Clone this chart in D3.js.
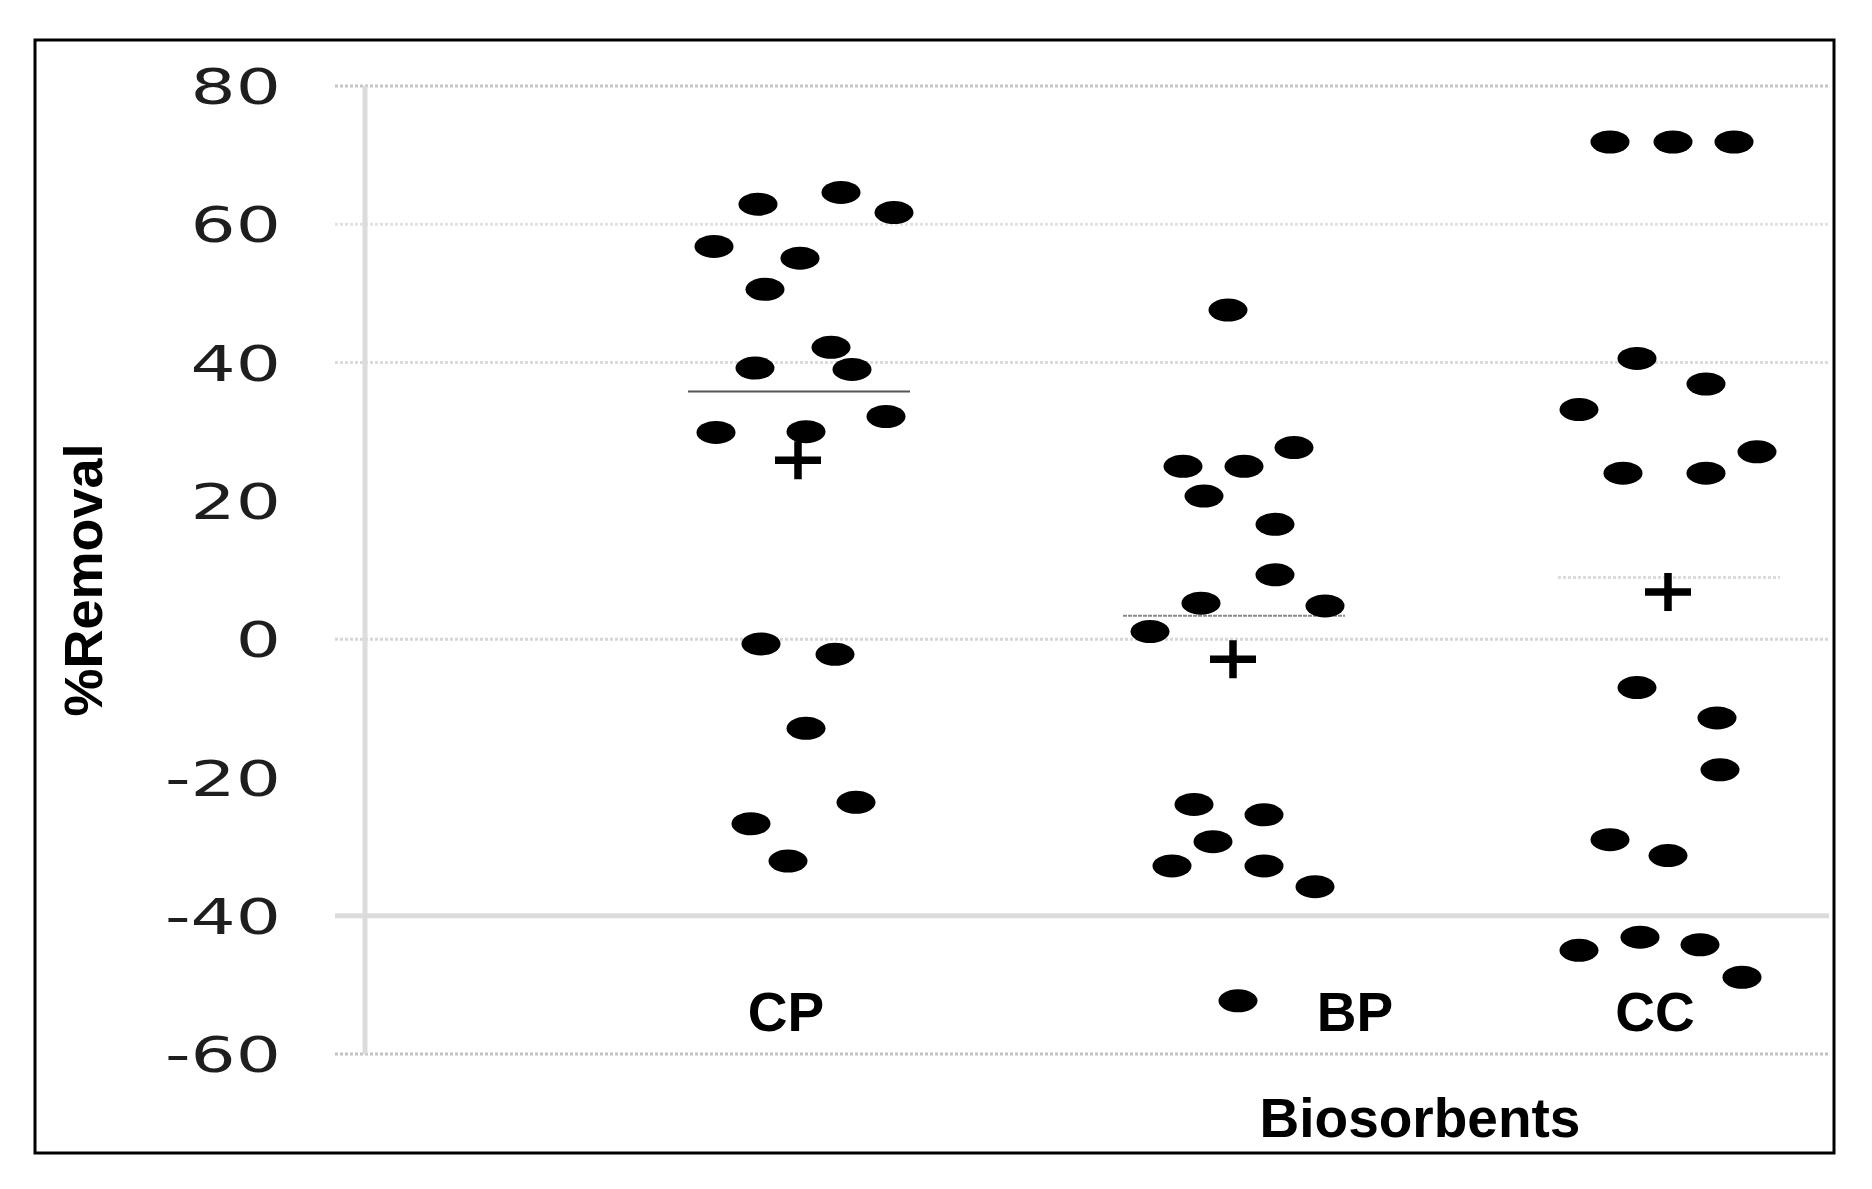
<!DOCTYPE html>
<html>
<head>
<meta charset="utf-8">
<script src="https://cdn.jsdelivr.net/npm/d3@7"></script>
<style>
  body { margin: 0; background: #fff; }
  .tick-label { font-family: 'DejaVu Sans', Verdana, sans-serif; font-size: 49px; fill: #1e1e1e; }
  .axis-label, .cat-label { font-family: 'Liberation Sans', Arial, sans-serif; font-weight: bold; fill: #000; }
</style>
</head>
<body>
<svg id="chart"></svg>
<script>
const categories = ['CP', 'BP', 'CC'];

// [%Removal, jitter] ; jitter is the sideways spread inside a group, -1 .. 1
const cpPoints = [
  [62.9, -0.40], [64.6, 0.43], [61.7, 0.96], [56.8, -0.84], [55.1, 0.02], [50.6, -0.33],
  [42.2, 0.33], [39.2, -0.43], [39.0, 0.54], [29.9, -0.82], [30.0, 0.08], [32.2, 0.88],
  [-0.7, -0.37], [-2.2, 0.37], [-12.9, 0.08], [-23.6, 0.58], [-26.7, -0.47], [-32.1, -0.10]
];
const bpPoints = [
  [47.6, -0.05], [27.7, 0.61], [25.0, -0.50], [25.0, 0.11], [20.7, -0.29], [16.6, 0.42],
  [9.3, 0.42], [5.2, -0.32], [4.8, 0.92], [1.1, -0.83], [-23.9, -0.39], [-25.4, 0.31],
  [-29.3, -0.20], [-32.8, -0.61], [-32.8, 0.31], [-35.8, 0.82], [-52.3, 0.05]
];
const ccPoints = [
  [71.9, -0.58], [71.9, 0.05], [71.9, 0.66], [40.6, -0.31], [36.9, 0.38], [33.2, -0.89],
  [27.1, 0.89], [24.0, -0.45], [24.0, 0.38], [-7.0, -0.31], [-11.4, 0.49], [-18.9, 0.52],
  [-29.0, -0.58], [-31.3, 0.00], [-45.0, -0.89], [-43.1, -0.28], [-44.2, 0.32], [-48.9, 0.74]
];

// median bars as drawn in the figure
const medianLines = [35.8, 3.4, 8.9];

const yTicks = [80, 60, 40, 20, 0, -20, -40, -60];
const gridValues = [80, 60, 40, 0, -40, -60];

const xAxisTitle = 'Biosorbents';
const yAxisTitle = '%Removal';

class DotPlot {

  constructor(_config) {
    this.config = {
      parentElement: _config.parentElement,
      containerWidth: _config.containerWidth || 1872,
      containerHeight: _config.containerHeight || 1189,
    }
  }

  initVis() {
    let vis = this;

    vis.svg = d3.select(vis.config.parentElement)
      .attr('width', vis.config.containerWidth)
      .attr('height', vis.config.containerHeight);

    vis.groups = [cpPoints, bpPoints, ccPoints].map((pts, i) => ({
      name: categories[i],
      points: pts.map(p => ({ value: p[0], jitter: p[1] })),
      median: medianLines[i],
      mean: d3.mean(pts, p => p[0])
    }));

    vis.yScale = d3.scaleLinear()
      .domain([-60, 80])
      .range([1054, 86]);

    vis.xScale = d3.scalePoint()
      .domain(categories)
      .range([798, 1668]);

    vis.jitterScale = d3.scaleLinear()
      .domain([-1, 1])
      .range([-100, 100]);

    // outer frame
    vis.svg.append('rect')
      .attr('x', 35)
      .attr('y', 40)
      .attr('width', 1799)
      .attr('height', 1113)
      .attr('fill', '#fff')
      .attr('stroke', '#000')
      .attr('stroke-width', 3);

    vis.render();
  }

  render() {
    let vis = this;

    // gridlines, each drawn a little differently in the original
    const gridStyle = {
      '80': { c: '#c6c6c6', w: 3, dash: '3,2' },
      '60': { c: '#e2e2e2', w: 3, dash: '3,2' },
      '40': { c: '#dcdcdc', w: 3, dash: '3,2' },
      '0': { c: '#d6d6d6', w: 3, dash: '3,2' },
      '-40': { c: '#dcdcdc', w: 5, dash: null },
      '-60': { c: '#c2c2c2', w: 3, dash: '3,2' }
    };

    vis.svg.append('g')
      .selectAll('line')
      .data(gridValues)
      .join('line')
      .attr('x1', 335)
      .attr('x2', 1829)
      .attr('y1', d => vis.yScale(d))
      .attr('y2', d => vis.yScale(d))
      .attr('stroke', d => gridStyle[d].c)
      .attr('stroke-width', d => gridStyle[d].w)
      .attr('stroke-dasharray', d => gridStyle[d].dash);

    // vertical axis line
    vis.svg.append('line')
      .attr('x1', 365)
      .attr('x2', 365)
      .attr('y1', vis.yScale(80))
      .attr('y2', vis.yScale(-60))
      .attr('stroke', '#dcdcdc')
      .attr('stroke-width', 5);

    const yAxis = d3.axisLeft(vis.yScale)
      .tickValues(yTicks)
      .tickFormat(d => String(d))
      .tickSize(0)
      .tickSizeOuter(0);

    const yAxisG = vis.svg.append('g')
      .attr('transform', 'translate(281,0)')
      .call(yAxis);
    yAxisG.select('.domain').remove();
    yAxisG.selectAll('text')
      .attr('class', 'tick-label')
      .attr('x', 0)
      .attr('dy', '0.36em')
      .attr('transform', 'scale(1.45,1)');

    // medians
    const medianStyle = [
      { c: '#555', w: 2, dash: null },
      { c: '#8a8a8a', w: 2, dash: '4,1' },
      { c: '#dcdcdc', w: 3, dash: '3,2' }
    ];
    vis.svg.append('g')
      .selectAll('line')
      .data(vis.groups)
      .join('line')
      .attr('x1', d => vis.xScale(d.name) + vis.jitterScale(-1.1))
      .attr('x2', d => vis.xScale(d.name) + vis.jitterScale(1.12))
      .attr('y1', d => vis.yScale(d.median))
      .attr('y2', d => vis.yScale(d.median))
      .attr('stroke', (d, i) => medianStyle[i].c)
      .attr('stroke-width', (d, i) => medianStyle[i].w)
      .attr('stroke-dasharray', (d, i) => medianStyle[i].dash);

    // dots
    const groupG = vis.svg.append('g')
      .selectAll('g')
      .data(vis.groups)
      .join('g')
      .attr('transform', d => `translate(${vis.xScale(d.name)},0)`);

    groupG.selectAll('ellipse')
      .data(d => d.points)
      .join('ellipse')
      .attr('cx', d => vis.jitterScale(d.jitter))
      .attr('cy', d => vis.yScale(d.value))
      .attr('rx', 19.5)
      .attr('ry', 11.5)
      .attr('fill', '#000');

    // mean markers
    const plusW = 23, plusH = 19;
    groupG.append('path')
      .attr('d', d => {
        const y = vis.yScale(d.mean);
        return `M${-plusW},${y}H${plusW}M0,${y - plusH}V${y + plusH}`;
      })
      .attr('stroke', '#000')
      .attr('stroke-width', 7.5)
      .attr('fill', 'none');

    // category labels sit a little off their groups in the original
    const labelShift = { CP: -12, BP: 122, CC: -13 };
    vis.svg.append('g')
      .selectAll('text')
      .data(categories)
      .join('text')
      .attr('class', 'cat-label')
      .attr('x', d => vis.xScale(d) + labelShift[d])
      .attr('y', 1031)
      .attr('text-anchor', 'middle')
      .attr('font-size', 55)
      .text(d => d);

    vis.svg.append('text')
      .attr('class', 'axis-label')
      .attr('x', 1420)
      .attr('y', 1137)
      .attr('text-anchor', 'middle')
      .attr('font-size', 55)
      .text(xAxisTitle);

    vis.svg.append('text')
      .attr('class', 'axis-label')
      .attr('transform', 'translate(102,580) rotate(-90)')
      .attr('text-anchor', 'middle')
      .attr('font-size', 54)
      .text(yAxisTitle);
  }
}

const chart = new DotPlot({ parentElement: '#chart' });
chart.initVis();
</script>
</body>
</html>
